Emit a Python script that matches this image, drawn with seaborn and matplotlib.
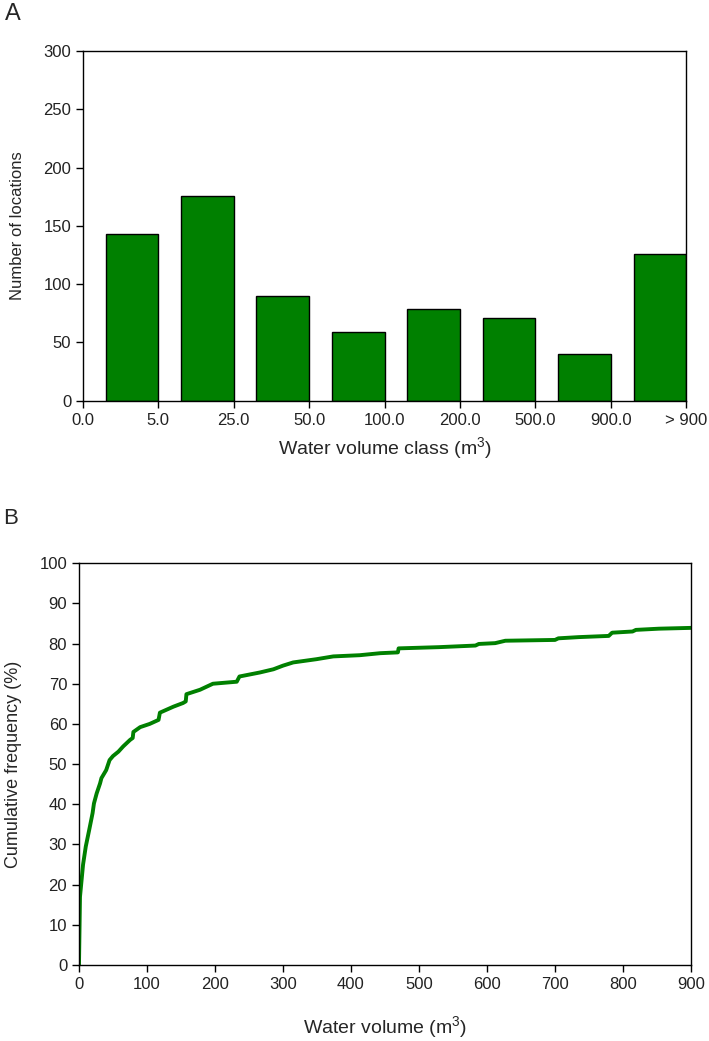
import matplotlib
matplotlib.use("Agg")
import matplotlib.pyplot as plt
import seaborn as sns
import pandas as pd

# panel A: locations per water volume class
volume_class = ["0-5", "5-25", "25-50", "50-100", "100-200", "200-500", "500-900", ">900"]
n_locations = [143, 176, 90, 59, 79, 71, 40, 126]
class_edges = ["0.0", "5.0", "25.0", "50.0", "100.0", "200.0", "500.0", "900.0", "> 900"]

# panel B: cumulative frequency curve
volume = [0, 1.5, 6, 10, 15, 20, 22, 26, 31, 33, 40, 45, 50, 58, 65, 75, 79, 80, 90, 104,
          117, 119, 139, 153, 157, 158, 178, 197, 232, 236, 266, 286, 300, 315, 349, 374,
          413, 443, 469, 470, 529, 583, 588, 612, 627, 700, 705, 735, 779, 784, 814, 819,
          853, 900]
cum_freq = [0, 17, 25, 29.5, 33.6, 37.8, 40.2, 42.7, 45.2, 46.5, 48.5, 51, 52, 53.1, 54.4,
            56, 56.5, 58, 59.2, 60, 61, 62.8, 64.3, 65.2, 65.6, 67.4, 68.5, 70, 70.5, 71.8,
            72.8, 73.6, 74.5, 75.3, 76.1, 76.8, 77.1, 77.6, 77.8, 78.8, 79.1, 79.5, 79.9,
            80.1, 80.7, 80.9, 81.3, 81.6, 81.9, 82.7, 83.0, 83.4, 83.7, 83.9]

sns.set_style("ticks")
plt.rcParams["font.family"] = ["Liberation Sans", "DejaVu Sans"]
plt.rcParams["mathtext.fontset"] = "custom"
plt.rcParams["mathtext.rm"] = "Liberation Sans"

green = "#008000"
fig = plt.figure(figsize=(7.09, 10.41), dpi=100)

# ---- panel A
ax1 = fig.add_axes([0.117, 0.615, 0.851, 0.336])
dfa = pd.DataFrame({"cls": volume_class, "n": n_locations})
sns.barplot(data=dfa, x="cls", y="n", color=green, saturation=1, width=0.7,
            edgecolor="black", linewidth=1, ax=ax1)
ax1.set_xlim(-0.65, 7.35)
ax1.set_xticks([i - 0.65 for i in range(9)])
ax1.set_xticklabels(class_edges)
ax1.set_ylim(0, 300)
ax1.set_yticks(range(0, 301, 50))
ax1.set_xlabel("Water volume class (m$^3$)", fontsize=14, va="top")
ax1.xaxis.set_label_coords(0.5, -0.1)
ax1.set_ylabel("Number of locations", fontsize=12)
ax1.yaxis.set_label_coords(-0.096, 0.5)

# ---- panel B
ax2 = fig.add_axes([0.1114, 0.073, 0.8632, 0.386])
dfb = pd.DataFrame({"volume": volume, "cum": cum_freq})
sns.lineplot(data=dfb, x="volume", y="cum", sort=False, estimator=None,
             color=green, linewidth=2.8, ax=ax2)
ax2.set_xlim(0, 900)
ax2.set_ylim(0, 100)
ax2.set_xticks(range(0, 901, 100))
ax2.set_yticks(range(0, 101, 10))
ax2.set_xlabel("Water volume (m$^3$)", fontsize=14, va="top")
ax2.xaxis.set_label_coords(0.5, -0.124)
ax2.set_ylabel("Cumulative frequency (%)", fontsize=13)
ax2.yaxis.set_label_coords(-0.093, 0.5)

for ax in (ax1, ax2):
    for s in ax.spines.values():
        s.set_visible(True)
        s.set_color("black")
        s.set_linewidth(1)
    ax.tick_params(direction="out", length=5, width=1, labelsize=12,
                   colors="black", labelcolor="#222222")

fig.text(0.007, 0.997, "A", fontsize=17, va="top", ha="left")
fig.text(0.004, 0.512, "B", fontsize=16, va="top", ha="left")

fig.savefig("out.png", dpi=100)
